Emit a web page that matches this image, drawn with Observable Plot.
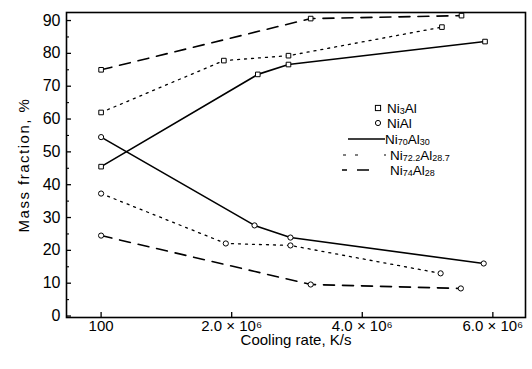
<!DOCTYPE html>
<html><head><meta charset="utf-8">
<script src="https://cdn.jsdelivr.net/npm/d3@7"></script>
<script src="https://cdn.jsdelivr.net/npm/@observablehq/plot@0.6"></script>
<style>
body{margin:0;background:#fff;}
#wrap{position:relative;width:532px;height:369px;font-family:"Liberation Sans",Arial,sans-serif;}
#legend{position:absolute;left:0;top:0;pointer-events:none;}
</style></head><body><div id="wrap"></div>
<script>
// Cooling rate in units of 10^6 K/s, mass fraction in %
const ni3al_70_rate = [0, 2.40, 2.87, 5.88];
const ni3al_70_val  = [45.5, 73.6, 76.6, 83.6];
const ni3al_72_rate = [0, 1.88, 2.87, 5.22];
const ni3al_72_val  = [62, 77.8, 79.3, 88];
const ni3al_74_rate = [0, 3.21, 5.52];
const ni3al_74_val  = [75, 90.6, 91.5];
const nial_70_rate  = [0, 2.35, 2.90, 5.86];
const nial_70_val   = [54.5, 27.6, 23.9, 16];
const nial_72_rate  = [0, 1.91, 2.90, 5.20];
const nial_72_val   = [37.3, 22.1, 21.5, 13];
const nial_74_rate  = [0, 3.21, 5.51];
const nial_74_val   = [24.5, 9.6, 8.4];

const xTicks = [0, 2, 4, 6];
const xTickLabels = ["100", "2.0 × 10⁶", "4.0 × 10⁶", "6.0 × 10⁶"];
const yMajor = [0,10,20,30,40,50,60,70,80,90];
const yMinor = [5,15,25,35,45,55,65,75,85];

function rows(phase, alloy, rate, val){ return rate.map((r,i)=>({phase, alloy, rate:r, value:val[i]})); }
const data = [
  ...rows("Ni3Al","Ni70Al30",ni3al_70_rate,ni3al_70_val),
  ...rows("Ni3Al","Ni72.2Al28.7",ni3al_72_rate,ni3al_72_val),
  ...rows("Ni3Al","Ni74Al28",ni3al_74_rate,ni3al_74_val),
  ...rows("NiAl","Ni70Al30",nial_70_rate,nial_70_val),
  ...rows("NiAl","Ni72.2Al28.7",nial_72_rate,nial_72_val),
  ...rows("NiAl","Ni74Al28",nial_74_rate,nial_74_val)
];
const lineStyle = {
  "Ni70Al30": {strokeWidth:1.6, strokeDasharray:null},
  "Ni72.2Al28.7": {strokeWidth:1.3, strokeDasharray:"2,5"},
  "Ni74Al28": {strokeWidth:1.6, strokeDasharray:"11,8"}
};

const lineMarks = Object.keys(lineStyle).map(a =>
  Plot.line(data.filter(d=>d.alloy===a), {x:"rate", y:"value", z:"phase", stroke:"#000", ...lineStyle[a]})
);

const chart = Plot.plot({
  width:532, height:369,
  marginLeft:66, marginRight:7, marginTop:12, marginBottom:52,
  style:{fontFamily:"'Liberation Sans', Arial, sans-serif", fontSize:"15px", color:"#000", background:"#fff"},
  x:{domain:[-0.53, 6.5]},
  y:{domain:[-0.45, 92.45]},
  marks:[
    ...lineMarks,
    Plot.dot(data.filter(d=>d.phase==="Ni3Al"), {x:"rate", y:"value", symbol:"square", r:2.6, fill:"#fff", stroke:"#000", strokeWidth:1}),
    Plot.dot(data.filter(d=>d.phase==="NiAl"), {x:"rate", y:"value", symbol:"circle", r:2.6, fill:"#fff", stroke:"#000", strokeWidth:1}),
    Plot.frame({stroke:"#000", strokeWidth:1.6}),
    Plot.axisY({ticks:yMajor, tickSize:5, dx:5, tickFormat:()=>"", label:null, strokeWidth:1.3}),
    Plot.axisY({ticks:yMinor, tickSize:3, dx:3, tickFormat:()=>"", label:null, strokeWidth:1.1}),
    Plot.axisY({ticks:yMajor, tickSize:0, tickPadding:6, fontSize:16, label:"Mass fraction, %", labelAnchor:"center", labelOffset:48, labelArrow:"none"}),
    Plot.axisX({ticks:xTicks, tickSize:5, dy:-5, tickFormat:()=>"", label:null, strokeWidth:1.3}),
    Plot.axisX({ticks:xTicks, tickSize:0, tickPadding:3, tickFormat:(d)=>xTickLabels[xTicks.indexOf(d)], label:"Cooling rate, K/s", labelAnchor:"center", labelOffset:27, labelArrow:"none"})
  ]
});
document.getElementById("wrap").appendChild(chart);
d3.select(chart).selectAll('g[aria-label="y-axis label"] text').style("letter-spacing","1.5px").style("font-size","15px");

// Legend overlay
const legendItems = [
  {kind:"square", parts:[["Ni",0],["3",1],["Al",0]]},
  {kind:"circle", parts:[["NiAl",0]]},
  {kind:"solid", parts:[["Ni",0],["70",1],["Al",0],["30",1]]},
  {kind:"dotted", parts:[["Ni",0],["72.2",1],["Al",0],["28.7",1]]},
  {kind:"dashed", parts:[["Ni",0],["74",1],["Al",0],["28",1]]}
];
const lg = d3.select("#wrap").append("svg").attr("id","legend").attr("width",532).attr("height",369)
  .style("font-family","'Liberation Sans', Arial, sans-serif");
const rowY = [108,123,139,155,170];
const textX = [387,387,385,390,390];
legendItems.forEach((it,i)=>{
  const y = rowY[i];
  if(it.kind==="square") lg.append("rect").attr("x",375.4).attr("y",y-2.6).attr("width",5.2).attr("height",5.2).attr("fill","#fff").attr("stroke","#000");
  if(it.kind==="circle") lg.append("circle").attr("cx",378).attr("cy",y).attr("r",2.6).attr("fill","#fff").attr("stroke","#000");
  if(it.kind==="solid") lg.append("line").attr("x1",348).attr("x2",385).attr("y1",y).attr("y2",y).attr("stroke","#000").attr("stroke-width",1.5);
  if(it.kind==="dotted") lg.append("line").attr("x1",343).attr("x2",387).attr("y1",y).attr("y2",y).attr("stroke","#000").attr("stroke-width",1.2).attr("stroke-dasharray","3,9,3,26,2");
  if(it.kind==="dashed") lg.append("line").attr("x1",342).attr("x2",369).attr("y1",y).attr("y2",y).attr("stroke","#000").attr("stroke-width",1.5).attr("stroke-dasharray","5,10,12");
  const t = lg.append("text").attr("x",textX[i]).attr("y",y+4.5).attr("font-size",13.5).attr("fill","#000");
  let sub = false;
  it.parts.forEach(([s,isSub])=>{
    const ts = t.append("tspan").text(s);
    if(isSub && !sub){ ts.attr("font-size",9).attr("dy",1.5); sub=true; }
    else if(!isSub && sub){ ts.attr("dy",-1.5); sub=false; }
    else if(isSub){ ts.attr("font-size",9); }
  });
});
</script></body></html>
